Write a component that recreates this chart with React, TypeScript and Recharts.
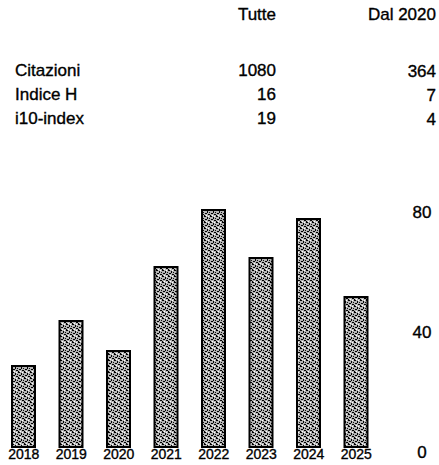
import React from 'react'
import { BarChart, Bar, XAxis, YAxis } from 'recharts'

// Citazioni per anno
const years = ['2018', '2019', '2020', '2021', '2022', '2023', '2024', '2025']
const citations = [27, 42, 32, 60, 79, 63, 76, 50]
const yTicks = [0, 40, 80]

// tabella riassuntiva
const colHeads = ['Tutte', 'Dal 2020']
const statLabels = ['Citazioni', 'Indice H', 'i10-index']
const statAll = ['1080', '16', '19']
const statSince = ['364', '7', '4']

const data = years.map((year, i) => ({ year, value: citations[i] }))

const FONT = '"Liberation Sans", Arial, sans-serif'
const ROW_Y = [71, 95, 119]

function RightTick({ x, y, payload }: any) {
  return (
    <text x={x + 42} y={y + 7} textAnchor="middle" dominantBaseline="middle"
      fontSize={17} fill="#000" stroke="#000" strokeWidth={0.35} fontFamily={FONT}>
      {payload.value}
    </text>
  )
}

const cell = (top: number, extra: React.CSSProperties): React.CSSProperties => ({
  position: 'absolute', top: top - 10, lineHeight: '20px', fontSize: 17, color: '#000',
  WebkitTextStroke: '0.35px #000', ...extra,
})

export default function App() {
  return (
    <div style={{ position: 'absolute', left: 0, top: 0, width: 439, height: 465, background: '#fff', fontFamily: FONT, overflow: 'hidden' }}>
      {/* intestazioni */}
      <div style={cell(15, { right: 163 })}>{colHeads[0]}</div>
      <div style={cell(15, { right: 3 })}>{colHeads[1]}</div>

      {statLabels.map((label, i) => (
        <React.Fragment key={label}>
          <div style={cell(ROW_Y[i], { left: 15 })}>{label}</div>
          <div style={cell(ROW_Y[i], { right: 163 })}>{statAll[i]}</div>
          <div style={cell(ROW_Y[i] + 1, { right: 3 })}>{statSince[i]}</div>
        </React.Fragment>
      ))}

      <div style={{ position: 'absolute', left: 0, top: 198 }}>
        <BarChart width={439} height={265} data={data} margin={{ top: 9, right: 0, bottom: 0, left: 0 }}>
          <defs>
            <pattern id="speckle" width="6" height="6" patternUnits="userSpaceOnUse">
              <rect width="6" height="6" fill="#b4b4b4" />
              <rect x="0" y="0" width="2" height="1" fill="#000" />
              <rect x="3" y="1" width="1" height="2" fill="#000" />
              <rect x="1" y="3" width="2" height="1" fill="#000" />
              <rect x="4" y="4" width="2" height="1" fill="#000" />
              <rect x="0" y="5" width="1" height="1" fill="#000" />
              <rect x="5" y="2" width="1" height="1" fill="#111" />
              <rect x="2" y="5" width="1" height="1" fill="#fff" />
              <rect x="4" y="0" width="1" height="1" fill="#fff" />
            </pattern>
          </defs>
          <XAxis dataKey="year" interval={0} height={16} axisLine={false} tickLine={false}
            tickSize={0} tickMargin={2}
            tick={{ fontSize: 14, fill: '#000', stroke: '#000', strokeWidth: 0.35, fontFamily: FONT }} />
          <YAxis orientation="right" width={59} domain={[0, 80]} ticks={yTicks}
            axisLine={false} tickLine={false} tickSize={0} tickMargin={0} tick={<RightTick />} />
          <Bar dataKey="value" barSize={23} fill="url(#speckle)" stroke="#000" strokeWidth={2}
            isAnimationActive={false} />
        </BarChart>
      </div>
    </div>
  )
}
